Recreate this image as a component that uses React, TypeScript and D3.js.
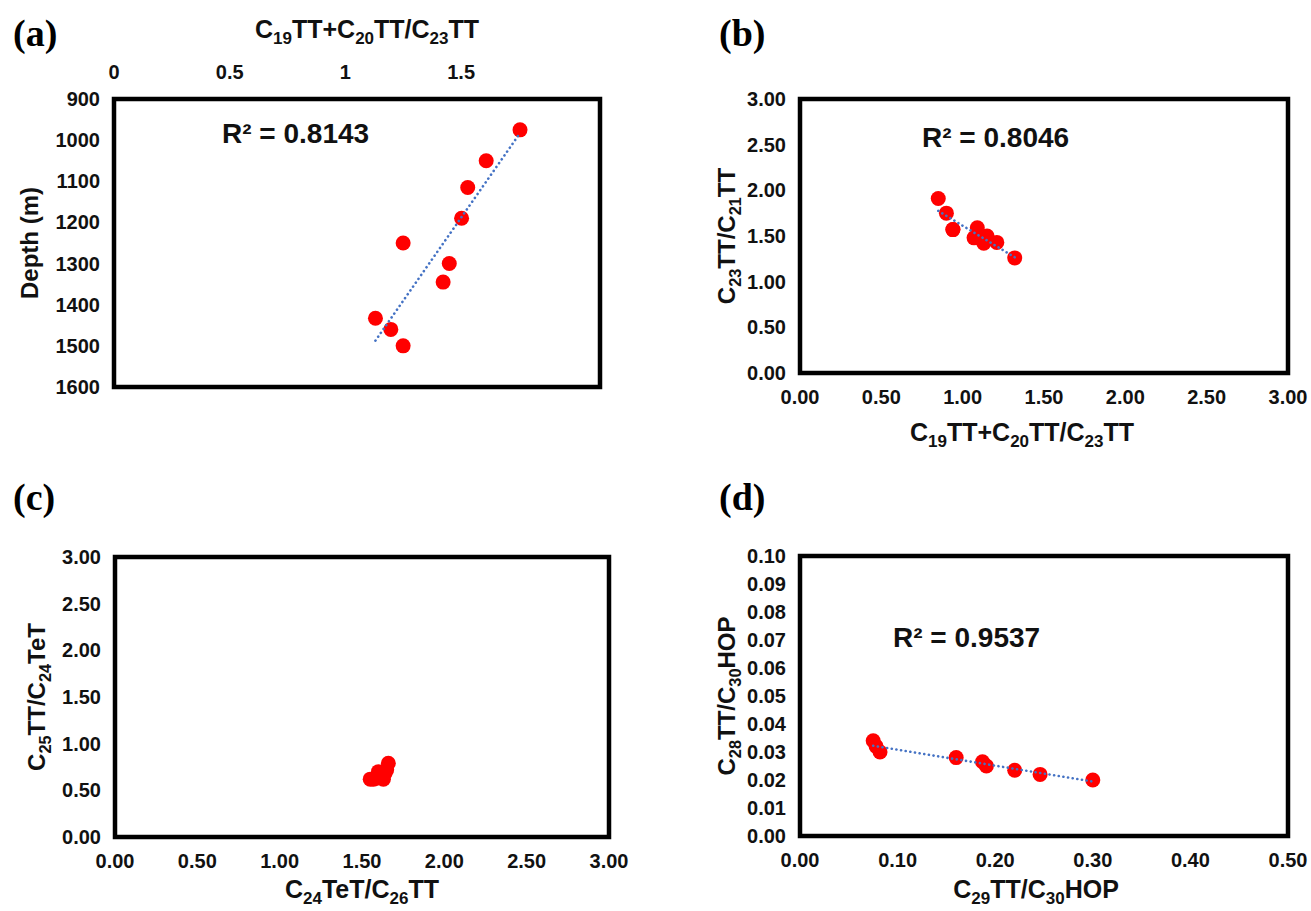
import React from 'react'
import * as d3 from 'd3'

// shared x ratio for (a) and (b)
const ratioC19C20 = [1.32, 1.21, 1.15, 1.13, 0.94, 1.09, 1.07, 0.85, 0.90, 0.94]
const depthM = [975, 1050, 1115, 1190, 1250, 1300, 1345, 1433, 1460, 1500]
const ratioC23C21 = [1.26, 1.43, 1.50, 1.42, 1.57, 1.59, 1.48, 1.91, 1.75, 1.57]

const ratioC24C26 = [1.55, 1.57, 1.59, 1.60, 1.61, 1.62, 1.63, 1.64, 1.65, 1.66]
const ratioC25C24 = [0.62, 0.62, 0.63, 0.70, 0.64, 0.66, 0.62, 0.68, 0.72, 0.79]

const ratioC29C30 = [0.075, 0.078, 0.082, 0.160, 0.187, 0.191, 0.220, 0.246, 0.300]
const ratioC28C30 = [0.034, 0.032, 0.030, 0.028, 0.0265, 0.025, 0.0235, 0.022, 0.020]

const depthTicks = [900, 1000, 1100, 1200, 1300, 1400, 1500, 1600]
const topTicksA = [0, 0.5, 1, 1.5]
const ticks0to3 = [0, 0.5, 1, 1.5, 2, 2.5, 3]
const ticksD_y = [0, 0.01, 0.02, 0.03, 0.04, 0.05, 0.06, 0.07, 0.08, 0.09, 0.1]
const ticksD_x = [0, 0.1, 0.2, 0.3, 0.4, 0.5]

const SANS = '"Liberation Sans", Arial, sans-serif'
const SERIF = '"Liberation Serif", "Times New Roman", serif'

type Seg = [string, boolean]

// label with subscripts, e.g. [['C', false], ['19', true], ['TT', false]]
function Label({ segs, x, y, rotate, size = 24 }: { segs: Seg[]; x: number; y: number; rotate?: boolean; size?: number }) {
  const subSize = size * 0.68
  const parts: React.ReactNode[] = []
  let sub = false
  segs.forEach(([t, s], i) => {
    let dy = 0
    if (s && !sub) dy = size * 0.25
    if (!s && sub) dy = -size * 0.25
    sub = s
    parts.push(
      <tspan key={i} dy={dy} fontSize={s ? subSize : size}>{t}</tspan>
    )
  })
  return (
    <text
      x={x}
      y={y}
      textAnchor="middle"
      fontFamily={SANS}
      fontWeight="bold"
      fontSize={size}
      fill="#111"
      transform={rotate ? `rotate(-90, ${x}, ${y})` : undefined}
    >
      {parts}
    </text>
  )
}

function fitLine(xs: number[], ys: number[]) {
  const xBar = d3.mean(xs) as number
  const yBar = d3.mean(ys) as number
  const num = d3.sum(xs.map((x, i) => (x - xBar) * (ys[i] - yBar)))
  const den = d3.sum(xs.map(x => (x - xBar) * (x - xBar)))
  const b = num / den
  const a = yBar - b * xBar
  const [x0, x1] = d3.extent(xs) as [number, number]
  return [[x0, a + b * x0], [x1, a + b * x1]]
}

type PanelProps = {
  box: { left: number; right: number; top: number; bottom: number }
  xDomain: [number, number]
  yDomain: [number, number]
  xTicks: number[]
  yTicks: number[]
  xFmt: (v: number) => string
  yFmt: (v: number) => string
  xs: number[]
  ys: number[]
  xTop?: boolean
  xLabelDomain?: [number, number] // (a): printed top axis doesn't line up with the data scale
  trend?: boolean
  r2?: { text: string; x: number; y: number }
  xTitle: Seg[]
  yTitle: Seg[]
  xTitleY: number
  xTitleShift?: number
  yTitleX: number
  letter: { text: string; x: number; y: number }
}

function Panel(p: PanelProps) {
  const { box } = p
  const x = d3.scaleLinear().domain(p.xDomain).range([box.left, box.right])
  const y = d3.scaleLinear().domain(p.yDomain).range([box.bottom, box.top])
  const xLab = p.xLabelDomain ? d3.scaleLinear().domain(p.xLabelDomain).range([box.left, box.right]) : x
  const line = d3.line<number[]>().x(d => x(d[0])).y(d => y(d[1]))
  const trend = p.trend ? fitLine(p.xs, p.ys) : null
  const xLabY = p.xTop ? box.top - 20 : box.bottom + 31
  return (
    <g>
      <text x={p.letter.x} y={p.letter.y} fontFamily={SERIF} fontWeight="bold" fontSize={38}>{p.letter.text}</text>
      {p.yTicks.map(t => (
        <text key={'y' + t} x={box.left - 14} y={y(t) + 7} textAnchor="end"
          fontFamily={SANS} fontWeight="bold" fontSize={20} fill="#111">{p.yFmt(t)}</text>
      ))}
      {p.xTicks.map(t => (
        <text key={'x' + t} x={xLab(t)} y={xLabY} textAnchor="middle"
          fontFamily={SANS} fontWeight="bold" fontSize={20} fill="#111">{p.xFmt(t)}</text>
      ))}
      <rect x={box.left} y={box.top} width={box.right - box.left} height={box.bottom - box.top}
        fill="none" stroke="#000" strokeWidth={4.5} />
      {p.xs.map((v, i) => (
        <circle key={i} cx={x(v)} cy={y(p.ys[i])} r={7.5} fill="#ff0000" />
      ))}
      {trend && (
        <path d={line(trend) || ''} fill="none" stroke="#4472c4" strokeWidth={2.6}
          strokeDasharray="0.1 4.6" strokeLinecap="round" />
      )}
      {p.r2 && (
        <text x={p.r2.x} y={p.r2.y} fontFamily={SANS} fontWeight="bold" fontSize={28} fill="#111">{p.r2.text}</text>
      )}
      <Label segs={p.xTitle} x={(box.left + box.right) / 2 + (p.xTitleShift || 0)} y={p.xTitleY} size={25} />
      <Label segs={p.yTitle} x={p.yTitleX} y={(box.top + box.bottom) / 2} rotate />
    </g>
  )
}

const f2 = d3.format('.2f')
const fPlain = (v: number) => String(v)

const ratioTitle: Seg[] = [['C', false], ['19', true], ['TT+C', false], ['20', true], ['TT/C', false], ['23', true], ['TT', false]]

export default function App() {
  return (
    <svg width={1311} height={911} style={{ position: 'absolute', left: 0, top: 0, background: '#fff' }}>
      <rect width={1311} height={911} fill="#fff" />
      <Panel
        box={{ left: 114, right: 600, top: 99, bottom: 387 }}
        xDomain={[0, 1.58]} yDomain={[1600, 900]}
        xTicks={topTicksA} yTicks={depthTicks}
        xFmt={fPlain} yFmt={fPlain}
        xs={ratioC19C20} ys={depthM} xTop xLabelDomain={[0, 2.1]} trend
        r2={{ text: 'R² = 0.8143', x: 222, y: 143 }}
        xTitle={ratioTitle} xTitleY={38} xTitleShift={10}
        yTitle={[['Depth (m)', false]]} yTitleX={38}
        letter={{ text: '(a)', x: 13, y: 46 }}
      />
      <Panel
        box={{ left: 800, right: 1288, top: 99, bottom: 373 }}
        xDomain={[0, 3]} yDomain={[0, 3]}
        xTicks={ticks0to3} yTicks={ticks0to3}
        xFmt={f2} yFmt={f2}
        xs={ratioC19C20} ys={ratioC23C21} trend
        r2={{ text: 'R² = 0.8046', x: 922, y: 147 }}
        xTitle={ratioTitle} xTitleY={441} xTitleShift={-22}
        yTitle={[['C', false], ['23', true], ['TT/C', false], ['21', true], ['TT', false]]} yTitleX={735}
        letter={{ text: '(b)', x: 719, y: 46 }}
      />
      <Panel
        box={{ left: 115, right: 609, top: 557, bottom: 837 }}
        xDomain={[0, 3]} yDomain={[0, 3]}
        xTicks={ticks0to3} yTicks={ticks0to3}
        xFmt={f2} yFmt={f2}
        xs={ratioC24C26} ys={ratioC25C24}
        xTitle={[['C', false], ['24', true], ['TeT/C', false], ['26', true], ['TT', false]]} xTitleY={898}
        yTitle={[['C', false], ['25', true], ['TT/C', false], ['24', true], ['TeT', false]]} yTitleX={45}
        letter={{ text: '(c)', x: 13, y: 510 }}
      />
      <Panel
        box={{ left: 800, right: 1288, top: 556, bottom: 836 }}
        xDomain={[0, 0.5]} yDomain={[0, 0.1]}
        xTicks={ticksD_x} yTicks={ticksD_y}
        xFmt={f2} yFmt={f2}
        xs={ratioC29C30} ys={ratioC28C30} trend
        r2={{ text: 'R² = 0.9537', x: 893, y: 647 }}
        xTitle={[['C', false], ['29', true], ['TT/C', false], ['30', true], ['HOP', false]]} xTitleY={898} xTitleShift={-8}
        yTitle={[['C', false], ['28', true], ['TT/C', false], ['30', true], ['HOP', false]]} yTitleX={735}
        letter={{ text: '(d)', x: 719, y: 510 }}
      />
    </svg>
  )
}
